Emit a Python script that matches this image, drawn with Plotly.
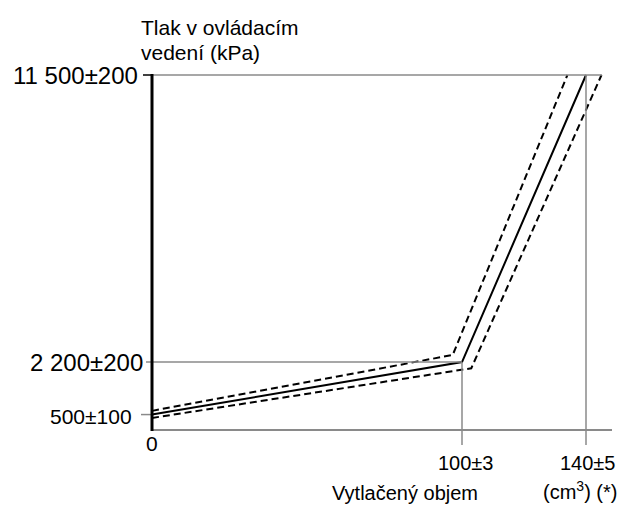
import plotly.graph_objects as go

# Data (volume in cm3, pressure in kPa)
nominal_x = [0, 100, 140]
nominal_y = [500, 2200, 11500]
upper_x = [0, 97, 134]
upper_y = [620, 2430, 11500]
lower_x = [0, 103, 145]
lower_y = [390, 2000, 11500]

y_tick_vals = [500, 2200, 11500]
y_tick_text = ["500±100", "2 200±200", "11 500±200"]
x_tick_vals = [0, 100, 140]
x_tick_text = ["0", "100±3", "140±5"]

y_title = ["Tlak v ovládacím", "vedení (kPa)"]
x_title = "Vytlačený objem"
x_unit = "(cm<sup>3</sup>) (*)"

W, H = 622, 505
px_per_x = 3.1
px_per_y = 355 / 11500
x0 = -152 / px_per_x
x1 = x0 + W / px_per_x
y1 = 430 / px_per_y
y0 = y1 - H / px_per_y

def dx(px):
    return (px - 152) / px_per_x

def dy(py):
    return (430 - py) / px_per_y

FONT = "Liberation Sans, Arial, sans-serif"
GRAY = "#8a8a8a"

fig = go.Figure()
fig.add_trace(go.Scatter(x=upper_x, y=upper_y, mode="lines",
                         line=dict(color="black", width=2, dash="7px,4px"), hoverinfo="skip"))
fig.add_trace(go.Scatter(x=lower_x, y=lower_y, mode="lines",
                         line=dict(color="black", width=2, dash="7px,4px"), hoverinfo="skip"))
fig.add_trace(go.Scatter(x=nominal_x, y=nominal_y, mode="lines",
                         line=dict(color="black", width=2), hoverinfo="skip"))

shapes = []
shapes.append(dict(type="line", x0=0, x1=dx(612), y0=0, y1=0, line=dict(color=GRAY, width=2)))
shapes.append(dict(type="line", x0=0, x1=dx(602), y0=y_tick_vals[2], y1=y_tick_vals[2], line=dict(color=GRAY, width=1.5)))
shapes.append(dict(type="line", x0=dx(143), x1=0, y0=y_tick_vals[2], y1=y_tick_vals[2], line=dict(color="black", width=1.5)))
shapes.append(dict(type="line", x0=dx(146), x1=x_tick_vals[1], y0=y_tick_vals[1], y1=y_tick_vals[1], line=dict(color=GRAY, width=1.5)))
shapes.append(dict(type="line", x0=dx(141), x1=0, y0=y_tick_vals[0], y1=y_tick_vals[0], line=dict(color=GRAY, width=1.5)))
shapes.append(dict(type="line", x0=x_tick_vals[1], x1=x_tick_vals[1], y0=dy(445), y1=y_tick_vals[1], line=dict(color=GRAY, width=1.5)))
shapes.append(dict(type="line", x0=x_tick_vals[2], x1=x_tick_vals[2], y0=dy(445), y1=y_tick_vals[2], line=dict(color=GRAY, width=1.5)))
shapes.append(dict(type="line", x0=0, x1=0, y0=dy(431), y1=dy(74), line=dict(color="black", width=3)))

ann = []
ann.append(dict(x=dx(140), y=y_tick_vals[2], text=y_tick_text[2], xanchor="right", yanchor="middle", font=dict(size=24)))
ann.append(dict(x=dx(145), y=y_tick_vals[1], text=y_tick_text[1], xanchor="right", yanchor="middle", font=dict(size=24)))
ann.append(dict(x=dx(134), y=dy(416), text=y_tick_text[0], xanchor="right", yanchor="middle", font=dict(size=21)))
ann.append(dict(x=x_tick_vals[0], y=dy(443), text=x_tick_text[0], xanchor="center", yanchor="middle", font=dict(size=21)))
ann.append(dict(x=dx(465), y=dy(463), text=x_tick_text[1], xanchor="center", yanchor="middle", font=dict(size=20)))
ann.append(dict(x=dx(587), y=dy(463), text=x_tick_text[2], xanchor="center", yanchor="middle", font=dict(size=20)))
ann.append(dict(x=dx(139), y=dy(27), text=y_title[0], xanchor="left", yanchor="middle", font=dict(size=21)))
ann.append(dict(x=dx(139), y=dy(52), text=y_title[1], xanchor="left", yanchor="middle", font=dict(size=21)))
ann.append(dict(x=dx(405), y=dy(493), text=x_title, xanchor="center", yanchor="middle", font=dict(size=20)))
ann.append(dict(x=dx(580), y=dy(490), text=x_unit, xanchor="center", yanchor="middle", font=dict(size=20)))
for a in ann:
    a.update(xref="x", yref="y", showarrow=False)
    a["font"].update(family=FONT, color="black")

fig.update_layout(
    width=W, height=H,
    margin=dict(l=0, r=0, t=0, b=0),
    paper_bgcolor="white", plot_bgcolor="white",
    showlegend=False,
    shapes=shapes, annotations=ann,
    xaxis=dict(range=[x0, x1], visible=False, fixedrange=True),
    yaxis=dict(range=[y0, y1], visible=False, fixedrange=True),
    font=dict(family=FONT, color="black"),
)
fig.write_html("out.html")
